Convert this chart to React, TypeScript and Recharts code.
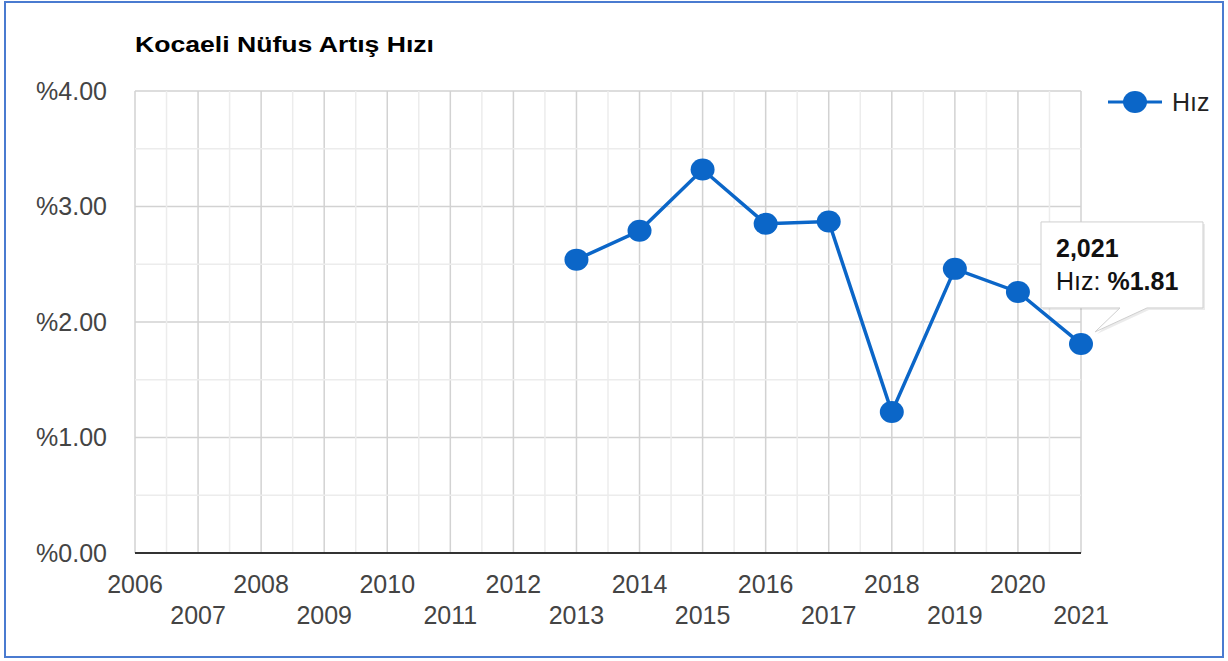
import { LineChart, Line, XAxis, YAxis, CartesianGrid, ReferenceLine, Legend, LabelList } from "recharts";

const BLUE = "#0B66C8";

const years = [2006, 2007, 2008, 2009, 2010, 2011, 2012, 2013, 2014, 2015, 2016, 2017, 2018, 2019, 2020, 2021];
const rates = [null, null, null, null, null, null, null, 2.54, 2.79, 3.32, 2.85, 2.87, 1.22, 2.46, 2.26, 1.81];
const yTicks = [0, 1, 2, 3, 4];
const minorY = [0.5, 1.5, 2.5, 3.5];
const minorX = years.slice(0, -1).map((y) => y + 0.5);
const calloutYear = 2021;

const data = years.map((year, i) => ({ year, rate: rates[i] }));

const pct = (v: number) => `%${v.toFixed(2)}`;

const YearTick = (props: any) => {
  const { x, y, payload } = props;
  const odd = payload.value % 2 === 1;
  return (
    <text x={x} y={y} dy={odd ? 71 : 40} textAnchor="middle" fill="#444" fontSize={25}>
      {payload.value}
    </text>
  );
};

const Dot = (props: any) => {
  const { cx, cy, index } = props;
  if (cx == null || cy == null) return <g key={index} />;
  return <ellipse key={index} cx={cx} cy={cy} rx={12} ry={11} fill={BLUE} />;
};

const Callout = (props: any) => {
  const { x, y, index, value } = props;
  if (data[index]?.year !== calloutYear || value == null) return null;
  const L = x - 40;
  const R = x + 122;
  const T = y - 122;
  const B = y - 36;
  const d = `M${L},${T} H${R} V${B} H${x + 66} L${x + 14},${y - 12} L${x + 39},${B} H${L} Z`;
  return (
    <g>
      <path d={d} fill="#000" opacity={0.08} transform="translate(2,2)" />
      <path d={d} fill="#fff" stroke="#cfcfcf" strokeWidth={1} />
      <text x={L + 15} y={T + 35} fontSize={25} fontWeight="bold" fill="#111">
        {data[index].year.toLocaleString("en-US")}
      </text>
      <text x={L + 15} y={T + 68} fontSize={25} fill="#111">
        Hız: <tspan fontWeight="bold">{pct(value)}</tspan>
      </text>
    </g>
  );
};

const LegendContent = (props: any) => {
  const item = props.payload?.[0];
  return (
    <svg width={110} height={32}>
      <line x1={3} x2={57} y1={15} y2={15} stroke={BLUE} strokeWidth={3} />
      <ellipse cx={30} cy={15} rx={12} ry={11} fill={BLUE} />
      <text x={67} y={24} fontSize={25} fill="#222">
        {item ? item.value : "Hız"}
      </text>
    </svg>
  );
};

export default function App() {
  return (
    <div
      style={{
        position: "relative",
        width: 1228,
        height: 661,
        background: "#fff",
        fontFamily: "'Liberation Sans', Arial, sans-serif",
      }}
    >
      <style>{"body{margin:0}"}</style>
      <div
        style={{
          position: "absolute",
          left: 4,
          top: 1,
          width: 1220,
          height: 657,
          border: "2px solid #4A7BD0",
          boxSizing: "border-box",
        }}
      />
      <svg width={1228} height={70} style={{ position: "absolute", left: 0, top: 0 }}>
        <text x={135} y={52} fontSize={22} fontWeight="bold" fill="#000" textLength={299} lengthAdjust="spacingAndGlyphs">
          Kocaeli Nüfus Artış Hızı
        </text>
      </svg>
      <div style={{ position: "absolute", left: 0, top: 0 }}>
        <LineChart width={1228} height={661} data={data} margin={{ top: 91, right: 147, left: 25, bottom: 28 }}>
          <CartesianGrid stroke="#d2d2d2" strokeWidth={1.5} />
          {minorX.map((v) => (
            <ReferenceLine key={`mx${v}`} x={v} stroke="#ececec" strokeWidth={1.5} />
          ))}
          {minorY.map((v) => (
            <ReferenceLine key={`my${v}`} y={v} stroke="#ececec" strokeWidth={1.5} />
          ))}
          <XAxis
            dataKey="year"
            type="number"
            domain={[2006, 2021]}
            ticks={years}
            interval={0}
            height={80}
            tickLine={false}
            tickSize={0}
            tickMargin={0}
            axisLine={{ stroke: "#333", strokeWidth: 2 }}
            tick={<YearTick />}
          />
          <YAxis
            domain={[0, 4]}
            ticks={yTicks}
            width={110}
            axisLine={false}
            tickLine={false}
            tickSize={0}
            tickMargin={28}
            tickFormatter={pct}
            tick={{ fontSize: 25, fill: "#444" }}
          />
          <Legend
            layout="vertical"
            align="center"
            verticalAlign="middle"
            wrapperStyle={{ top: 87, left: 1105, width: 112 }}
            content={<LegendContent />}
          />
          <Line
            type="linear"
            dataKey="rate"
            name="Hız"
            stroke={BLUE}
            strokeWidth={3.5}
            dot={Dot}
            activeDot={false}
            isAnimationActive={false}
          >
            <LabelList dataKey="rate" content={<Callout />} />
          </Line>
        </LineChart>
      </div>
    </div>
  );
}
